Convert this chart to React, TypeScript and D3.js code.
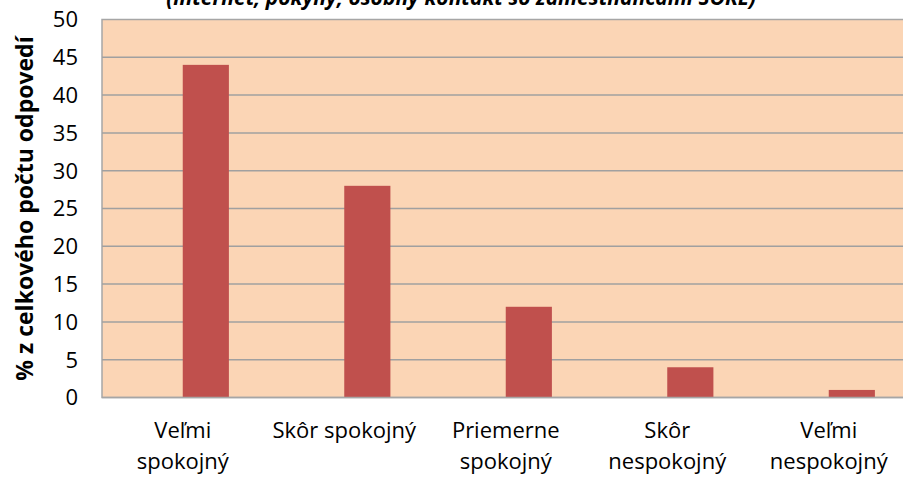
import React from "react";
import * as d3 from "d3";

const categories: string[][] = [
  ["Veľmi", "spokojný"],
  ["Skôr spokojný"],
  ["Priemerne", "spokojný"],
  ["Skôr", "nespokojný"],
  ["Veľmi", "nespokojný"],
];
const values: number[] = [44, 28, 12, 4, 1];
const yTicks: number[] = [0, 5, 10, 15, 20, 25, 30, 35, 40, 45, 50];
const yTitle = "% z celkového počtu odpovedí";
const chartTitle = "(internet, pokyny, osobný kontakt so zamestnancami SOKL)";

const W = 903;
const H = 477;
const plot = { left: 102, top: 19.5, right: 909.5, bottom: 397.5 };
const FONT = "'Open Sans', sans-serif";

export default function App() {
  const keys = categories.map((_, i) => String(i));
  const x = d3.scaleBand<string>().domain(keys).range([plot.left, plot.right]).padding(0);
  const y = d3.scaleLinear().domain([0, 50]).range([plot.bottom, plot.top]);
  const bw = x.bandwidth() / 3.5;

  return (
    <svg width={W} height={H} style={{ position: "absolute", left: 0, top: 0, background: "#fff" }}>
      <rect x={plot.left} y={plot.top} width={plot.right - plot.left} height={plot.bottom - plot.top} fill="#FBD5B5" stroke="#A6A6A6" strokeWidth={1.5} />
      {yTicks.filter((t) => t > 0 && t < 50).map((t) => (
        <line key={t} x1={plot.left} x2={plot.right} y1={y(t)} y2={y(t)} stroke="#A0A0A0" strokeWidth={1.5} />
      ))}
      {values.map((v, i) => {
        const cx = (x(String(i)) as number) + x.bandwidth() / 2;
        return <rect key={i} x={cx} y={y(v)} width={bw} height={y(0) - y(v)} fill="#C0504D" />;
      })}
      <line x1={plot.left} x2={plot.right} y1={plot.bottom} y2={plot.bottom} stroke="#A6A6A6" strokeWidth={1.5} />
      {yTicks.map((t) => (
        <text key={t} x={78} y={y(t)} dy="0.36em" textAnchor="end" fontFamily={FONT} fontSize={22} fill="#000">
          {t}
        </text>
      ))}
      {categories.map((lines, i) => {
        const cx = (x(String(i)) as number) + x.bandwidth() / 2;
        return (
          <text key={i} x={cx} y={438} textAnchor="middle" fontFamily={FONT} fontSize={22} fill="#000">
            {lines.map((l, j) => (
              <tspan key={j} x={cx} y={438 + j * 31}>{l}</tspan>
            ))}
          </text>
        );
      })}
      <text transform={`translate(33, ${(plot.top + plot.bottom) / 2}) rotate(-90)`} textAnchor="middle" fontFamily={FONT} fontWeight="bold" fontSize={23} fill="#000">
        {yTitle}
      </text>
      <text x={461} y={5} textAnchor="middle" fontFamily={FONT} fontWeight="bold" fontStyle="italic" fontSize={21} fill="#000">
        {chartTitle}
      </text>
    </svg>
  );
}
